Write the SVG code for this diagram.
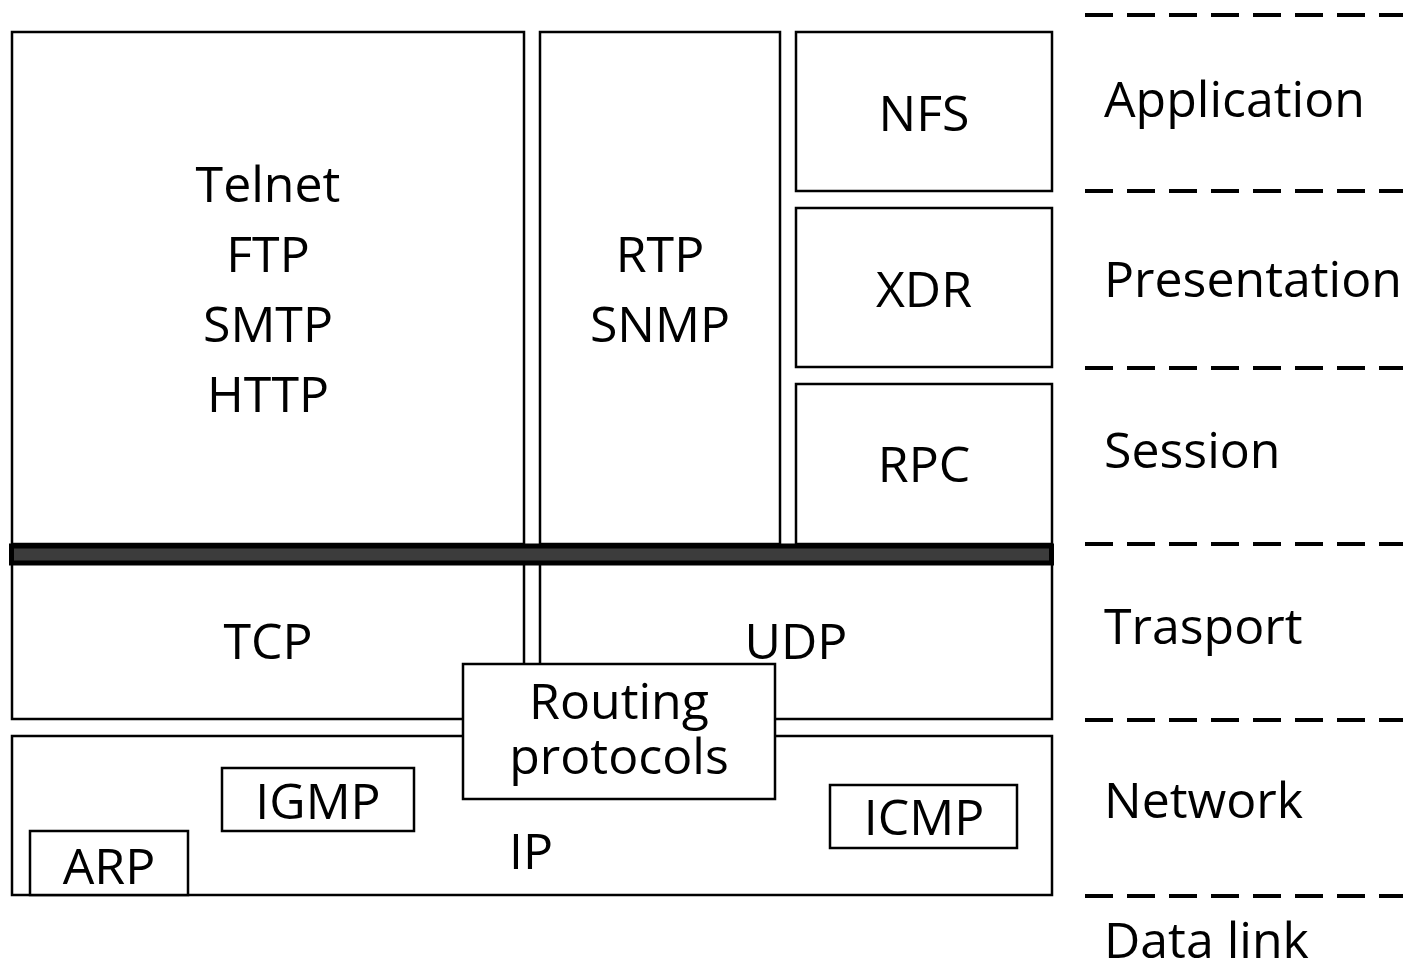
<svg xmlns="http://www.w3.org/2000/svg" width="1409" height="964" viewBox="0 0 1409 964">
<style>
.b{fill:#fff;stroke:#000;stroke-width:2.5}
.t{font-family:"Open Sans","Noto Sans",sans-serif;font-size:50px;fill:#000;text-anchor:middle}
.l{font-family:"Open Sans","Noto Sans",sans-serif;font-size:50px;fill:#000}
.d{stroke:#000;stroke-width:4;stroke-dasharray:28 14;fill:none}
</style>
<rect width="1409" height="964" fill="#fff"/>
<g id="layers">
<line class="d" x1="1085" y1="15" x2="1403" y2="15"/>
<line class="d" x1="1085" y1="191" x2="1403" y2="191"/>
<line class="d" x1="1085" y1="368" x2="1403" y2="368"/>
<line class="d" x1="1085" y1="544" x2="1403" y2="544"/>
<line class="d" x1="1085" y1="720" x2="1403" y2="720"/>
<line class="d" x1="1085" y1="896" x2="1403" y2="896"/>
<text class="l" x="1104" y="117">Application</text>
<text class="l" x="1104" y="297">Presentation</text>
<text class="l" x="1104" y="468">Session</text>
<text class="l" x="1104" y="644">Trasport</text>
<text class="l" x="1104" y="818">Network</text>
<text class="l" x="1104" y="958">Data link</text>
</g>
<g id="apps"><rect class="b" x="12" y="32" width="512" height="512"/>
<text class="t" x="268" y="202">Telnet</text><text class="t" x="268" y="272">FTP</text><text class="t" x="268" y="342">SMTP</text><text class="t" x="268" y="412">HTTP</text></g>
<g id="rtp"><rect class="b" x="540" y="32" width="240" height="512"/>
<text class="t" x="660" y="272">RTP</text><text class="t" x="660" y="342">SNMP</text></g>
<g id="nfs"><rect class="b" x="796" y="32" width="256" height="159"/><text class="t" x="924" y="131">NFS</text></g>
<g id="xdr"><rect class="b" x="796" y="208" width="256" height="159"/><text class="t" x="924" y="307">XDR</text></g>
<g id="rpc"><rect class="b" x="796" y="384" width="256" height="160"/><text class="t" x="924" y="482">RPC</text></g>
<g id="tcp"><rect class="b" x="12" y="560" width="512" height="159"/><text class="t" x="268" y="659">TCP</text></g>
<g id="udp"><rect class="b" x="540" y="560" width="512" height="159"/><text class="t" x="796" y="659">UDP</text></g>
<g id="socket"><rect x="11.5" y="546" width="1040" height="17" fill="#3c3c3c" stroke="#000" stroke-width="5"/></g>
<g id="ip"><rect class="b" x="12" y="736" width="1040" height="159"/><text class="t" x="531" y="869">IP</text></g>
<g id="igmp"><rect class="b" x="222" y="768" width="192" height="63"/><text class="t" x="318" y="819">IGMP</text></g>
<g id="arp"><rect class="b" x="30" y="831" width="158" height="64"/><text class="t" x="109" y="884">ARP</text></g>
<g id="icmp"><rect class="b" x="830" y="785" width="187" height="63"/><text class="t" x="924" y="835">ICMP</text></g>
<g id="routing"><rect class="b" x="463" y="664" width="312" height="135"/>
<text class="t" x="619" y="719">Routing</text><text class="t" x="619" y="774">protocols</text></g>
<g id="connectors"></g>
</svg>
